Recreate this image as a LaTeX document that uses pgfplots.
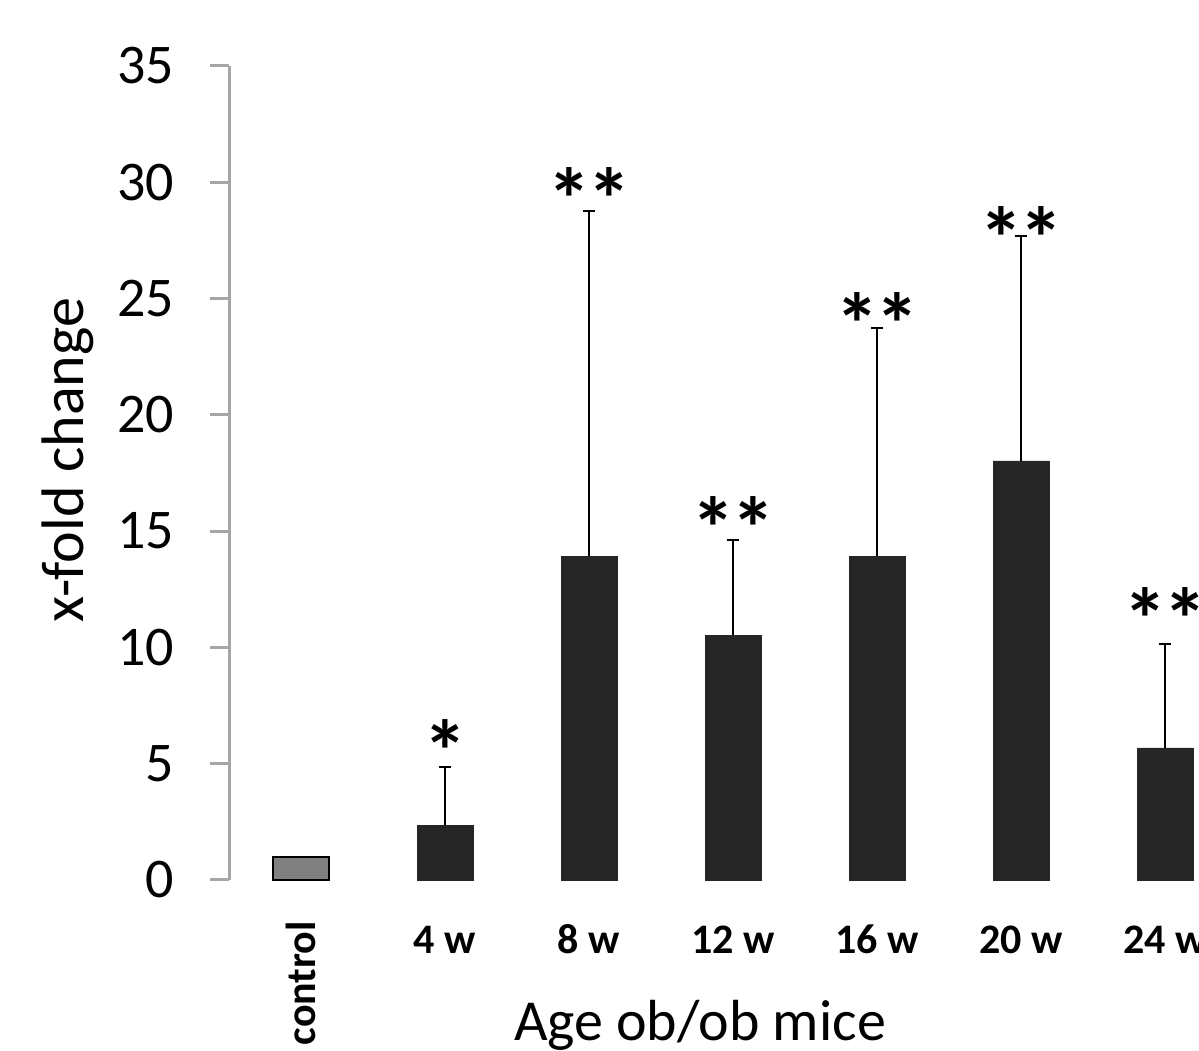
\documentclass[border=0pt]{standalone}
\usepackage{pgfplots}
\pgfplotsset{compat=1.18}
\usepackage{fontspec}
\setmainfont{Carlito}
\definecolor{bardark}{RGB}{38,38,38}
\definecolor{bargray}{RGB}{128,128,128}
\definecolor{axgray}{RGB}{166,166,166}
\newcommand{\xs}{\rule{0pt}{0.7em}}
\begin{document}
\begin{tikzpicture}
\begin{axis}[
  at={(229pt,171pt)}, anchor=south west,
  scale only axis, width=970pt, height=814pt,
  xmin=-0.5, xmax=6.236, ymin=0, ymax=35,
  axis lines=left, axis line style={-},
  x axis line style={draw=none},
  y axis line style={axgray, line width=3pt},
  ytick={0,5,...,35},
  ytick style={axgray, line width=3pt},
  tick align=outside, major tick length=19pt,
  xtick={0,1,2,3,4,5,6},
  xtick style={draw=none},
  xticklabels={\rotatebox{90}{control\kern-3pt},\xs 4 w,\xs 8 w,\xs 12 w,\xs 16 w,\xs 20 w,\xs 24 w},
  /pgf/number format/assume math mode=true,
  yticklabel style={font=\fontsize{56}{60}\selectfont, anchor=east, inner sep=0pt, xshift=-36pt},
  xticklabel style={font=\bfseries\fontsize{42}{48}\selectfont, anchor=north, inner sep=0pt, yshift=-25pt},
  xlabel={Age ob/ob mice},
  ylabel={x-fold change},
  xlabel style={font=\fontsize{58}{62}\selectfont, at={(rel axis cs:0.4856,-0.1966)}, anchor=base, inner sep=0pt},
  ylabel style={font=\fontsize{60}{64}\selectfont, at={(rel axis cs:-0.1505,0.516)}, anchor=base, rotate=0, inner sep=0pt},
  ybar, bar width=56pt, /pgf/bar shift=0pt,
  clip=false,
]
\addplot[fill=bargray, draw=black, line width=2pt] coordinates {(0,1)};
\addplot[fill=bardark, draw=bardark, line width=0.5pt,
  error bars/.cd, y dir=plus, y explicit,
  error mark=|,
  error bar style={black, line width=2pt},
  error mark options={black, line width=2pt, mark size=6pt}]
  coordinates {
  (1,2.36) +- (0,2.50)
  (2,13.93) +- (0,14.83)
  (3,10.53) +- (0,4.09)
  (4,13.93) +- (0,9.80)
  (5,18.02) +- (0,9.67)
  (6,5.68) +- (0,4.47)
};
\begin{scope}[every node/.style={font=\bfseries\fontsize{88}{92}\selectfont, inner sep=0pt}]
\node at (axis cs:1,5.55) {*};
\node at (axis cs:2,29.3) {*\kern-4pt*};
\node at (axis cs:3,15.15) {*\kern-4pt*};
\node at (axis cs:4,23.9) {*\kern-4pt*};
\node at (axis cs:5,27.6) {*\kern-4pt*};
\node at (axis cs:6,11.2) {*\kern-4pt*};
\end{scope}
\end{axis}
\pgfresetboundingbox
\path[use as bounding box] (0,0) rectangle (1199pt,1051pt);
\end{tikzpicture}
\end{document}
